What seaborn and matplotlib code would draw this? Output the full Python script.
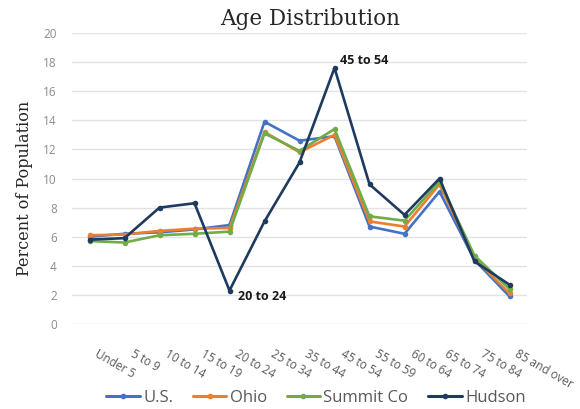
import pandas as pd
import matplotlib.pyplot as plt
import matplotlib.transforms as mtransforms
import seaborn as sns

# --- Datos ---
grupos_edad = ['Under 5', '5 to 9', '10 to 14', '15 to 19', '20 to 24', '25 to 34',
               '35 to 44', '45 to 54', '55 to 59', '60 to 64', '65 to 74', '75 to 84',
               '85 and over']
us = [6.0, 6.2, 6.3, 6.5, 6.8, 13.9, 12.6, 12.9, 6.7, 6.2, 9.1, 4.4, 1.9]
ohio = [6.1, 6.15, 6.4, 6.55, 6.6, 13.2, 11.8, 13.0, 7.05, 6.7, 9.6, 4.5, 2.1]
summit = [5.7, 5.6, 6.1, 6.2, 6.35, 13.1, 11.9, 13.4, 7.4, 7.1, 9.8, 4.7, 2.4]
hudson = [5.8, 5.9, 8.0, 8.3, 2.3, 7.05, 11.1, 17.6, 9.6, 7.5, 10.0, 4.3, 2.7]
series = ['U.S.', 'Ohio', 'Summit Co', 'Hudson']
colores = {'U.S.': '#4472c4', 'Ohio': '#ed7d31', 'Summit Co': '#70ad47', 'Hudson': '#1f3a5f'}

df = pd.DataFrame({'Edad': grupos_edad, 'U.S.': us, 'Ohio': ohio,
                   'Summit Co': summit, 'Hudson': hudson})
df_largo = df.melt(id_vars='Edad', var_name='Serie', value_name='Porcentaje')

sns.set_style("white")
plt.rcParams['font.family'] = ['Open Sans', 'DejaVu Sans']

fig = plt.figure(figsize=(5.8, 4.09), dpi=100)
ax = fig.add_axes([72/580, 1 - 324/409, 455/580, 291/409])

sns.lineplot(data=df_largo, x='Edad', y='Porcentaje', hue='Serie', hue_order=series,
             palette=colores, marker='o', markersize=4, markeredgewidth=0,
             linewidth=1.9, sort=False, ax=ax, legend=False)

ax.set_xlim(-0.5, len(grupos_edad) - 0.5)
ax.set_ylim(0, 20)
ax.set_yticks(range(0, 21, 2))
ax.yaxis.grid(True, color='#e3e3e3', linewidth=1)
ax.xaxis.grid(False)
for s in ax.spines.values():
    s.set_visible(False)
ax.tick_params(axis='y', length=0, pad=11, labelsize=8.5, labelcolor='#8c8c8c')
ax.tick_params(axis='x', length=0, pad=17, labelsize=8.5, labelcolor='#595959')
# Etiquetas inclinadas, empezando un poco a la derecha de cada categoría
desplazamiento = mtransforms.ScaledTranslation(10/100, 0, fig.dpi_scale_trans)
for lbl in ax.get_xticklabels():
    lbl.set_rotation(-30)
    lbl.set_ha('left')
    lbl.set_va('top')
    lbl.set_rotation_mode('anchor')
    lbl.set_transform(lbl.get_transform() + desplazamiento)

ax.set_xlabel('')
ax.set_ylabel('Percent of Population', family='DejaVu Serif', fontsize=11.5,
              color='#262626')
ax.yaxis.set_label_coords(-0.085, 0.467)

fig.text(310/580, 1 - 19/409, 'Age Distribution', family='DejaVu Serif',
         fontsize=15.5, color='#262626', ha='center', va='center')

# Etiquetas de los puntos de Hudson
i_max = hudson.index(max(hudson))
i_min = hudson.index(min(hudson))
ax.annotate(grupos_edad[i_max], (grupos_edad[i_max], hudson[i_max]), xytext=(4, 5),
            textcoords='offset points', fontsize=9, fontweight='bold', color='#1a1a1a',
            ha='left', va='center')
ax.annotate(grupos_edad[i_min], (grupos_edad[i_min], hudson[i_min]), xytext=(6, -4),
            textcoords='offset points', fontsize=9, fontweight='bold', color='#1a1a1a',
            ha='left', va='center')

handles = [plt.Line2D([], [], color=colores[s], marker='o', markersize=3,
                      linewidth=2.2) for s in series]
fig.legend(handles, series, loc='center', bbox_to_anchor=(316/580, 1 - 398/409),
           ncol=4, frameon=False, fontsize=12, labelcolor='#595959',
           handlelength=2.0, handletextpad=0.2, columnspacing=1.2)

plt.savefig('out.png', dpi=100)
plt.close()
